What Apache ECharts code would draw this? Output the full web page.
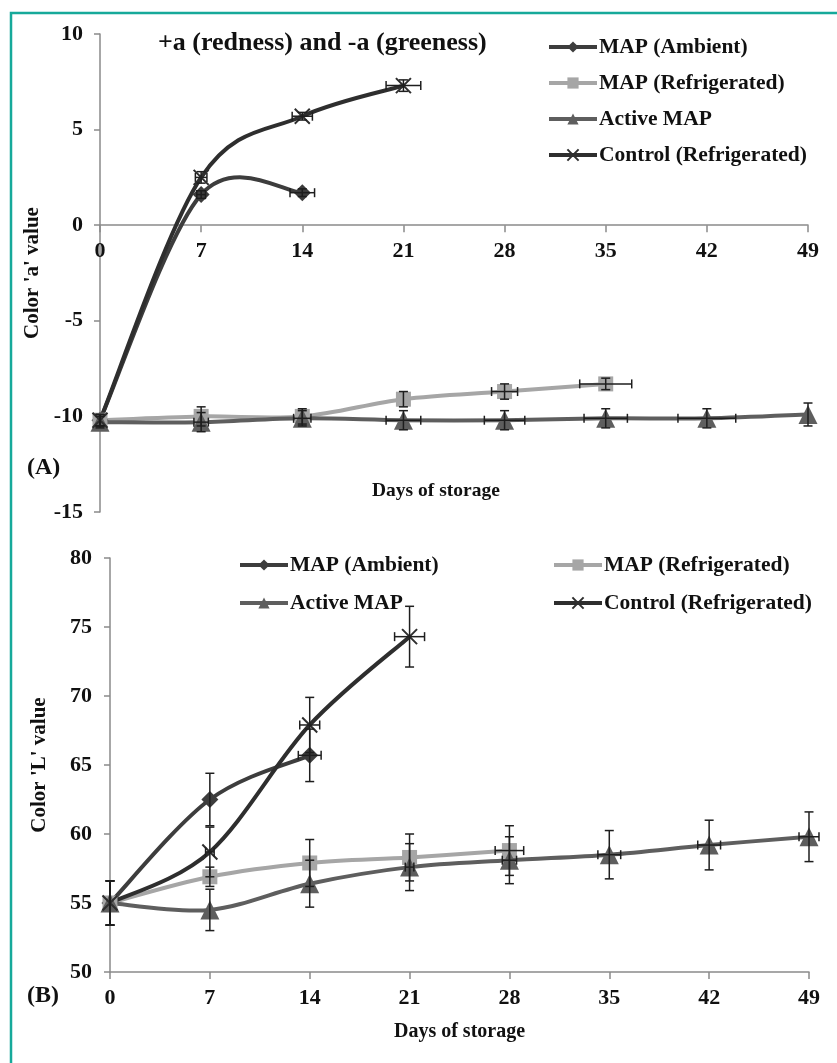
<!DOCTYPE html>
<html><head><meta charset="utf-8">
<script src="https://cdn.jsdelivr.net/npm/echarts@6/dist/echarts.min.js"></script>
<style>html,body{margin:0;padding:0;background:#fff}#c{width:837px;height:1063px}</style>
</head><body><div id="c"></div>
<script>
// ---------- DATA ----------
const seriesNames = ['MAP (Ambient)', 'MAP (Refrigerated)', 'Active MAP', 'Control (Refrigerated)'];
const dayTicks = [0, 7, 14, 21, 28, 35, 42, 49];

// Panel A : colour 'a' value
const aAmbientDays = [0, 7, 14];
const aAmbient     = [-10.2, 1.6, 1.7];
const aAmbientErrY = [0.3, 0.2, 0.2];
const aAmbientErrX = [0, 0.3, 0.85];

const aRefDays = [0, 7, 14, 21, 28, 35];
const aRef     = [-10.2, -10.0, -10.0, -9.1, -8.7, -8.3];
const aRefErrY = [0.3, 0.5, 0.4, 0.4, 0.4, 0.3];
const aRefErrX = [0, 0, 0, 0, 0.9, 1.8];

const aActiveDays = [0, 7, 14, 21, 28, 35, 42, 49];
const aActive     = [-10.3, -10.3, -10.1, -10.2, -10.2, -10.1, -10.1, -9.9];
const aActiveErrY = [0.3, 0.5, 0.4, 0.5, 0.5, 0.5, 0.5, 0.6];
const aActiveErrX = [0, 0.5, 0.6, 1.2, 1.4, 1.5, 2.0, 0];

const aControlDays = [0, 7, 14, 21];
const aControl     = [-10.2, 2.5, 5.7, 7.3];
const aControlErrY = [0.3, 0.3, 0.2, 0.3];
const aControlErrX = [0, 0.4, 0.7, 1.2];

// Panel B : colour 'L' value
const bAmbientDays = [0, 7, 14];
const bAmbient     = [55.0, 62.5, 65.7];
const bAmbientErrY = [1.6, 1.9, 1.9];
const bAmbientErrX = [0, 0, 0.8];

const bRefDays = [0, 7, 14, 21, 28];
const bRef     = [55.0, 56.9, 57.9, 58.3, 58.8];
const bRefErrY = [1.6, 0.7, 1.7, 1.7, 1.8];
const bRefErrX = [0, 0, 0, 0, 1.0];

const bActiveDays = [0, 7, 14, 21, 28, 35, 42, 49];
const bActive     = [55.0, 54.5, 56.4, 57.6, 58.1, 58.5, 59.2, 59.8];
const bActiveErrY = [1.6, 1.5, 1.7, 1.7, 1.7, 1.75, 1.8, 1.8];
const bActiveErrX = [0, 0, 0, 0.3, 0.5, 0.8, 0.8, 0.7];

const bControlDays = [0, 7, 14, 21];
const bControl     = [55.0, 58.7, 67.9, 74.3];
const bControlErrY = [1.6, 1.8, 2.0, 2.2];
const bControlErrX = [0, 0.3, 0.7, 1.05];

// ---------- STYLE ----------
const FONT = '"Liberation Serif", "Times New Roman", serif';
const colors = ['#3d3d3d', '#a6a6a6', '#5e5e5e', '#2e2e2e'];
const symbols = ['diamond', 'rect', 'triangle', 'path://M0,0L10,10M10,0L0,10'];
const symSizes = [17, 15, 19, 15];
const axisColor = '#8a8a8a';

function lineSeries(idx, days, vals, gi) {
  const isX = idx === 3;
  return {
    type: 'line', name: seriesNames[idx], xAxisIndex: gi, yAxisIndex: gi,
    data: days.map((d, i) => [d, vals[i]]),
    symbol: symbols[idx], symbolSize: symSizes[idx],
    lineStyle: { color: colors[idx], width: 4, opacity: 0 },
    itemStyle: isX ? { color: 'rgba(0,0,0,0)', borderColor: colors[idx], borderWidth: 2 }
                   : { color: colors[idx], borderWidth: 0 },
    z: 4, animation: false
  };
}

function curveSeries(idx, days, vals, gi) {
  const data = days.map((d, i) => [d, vals[i]]);
  return {
    type: 'custom', id: 'curve' + gi + '_' + idx, xAxisIndex: gi, yAxisIndex: gi,
    data: data, z: 2, animation: false, silent: true,
    encode: { x: 0, y: 1 },
    renderItem: function (params, api) {
      const i = params.dataIndex;
      if (i >= data.length - 1) return { type: 'group', children: [] };
      const P = data.map(d => api.coord(d));
      const p0 = P[Math.max(i - 1, 0)], p1 = P[i], p2 = P[i + 1], p3 = P[Math.min(i + 2, P.length - 1)];
      const t = 1 / 6;
      return {
        type: 'bezierCurve',
        shape: {
          x1: p1[0], y1: p1[1], x2: p2[0], y2: p2[1],
          cpx1: p1[0] + (p2[0] - p0[0]) * t, cpy1: p1[1] + (p2[1] - p0[1]) * t,
          cpx2: p2[0] - (p3[0] - p1[0]) * t, cpy2: p2[1] - (p3[1] - p1[1]) * t
        },
        style: { stroke: colors[idx], lineWidth: 4, fill: null, lineCap: 'round' }
      };
    }
  };
}

function errSeries(idx, days, vals, ex, ey, gi) {
  const data = days.map((d, i) => [d, vals[i], ex[i], ey[i]]);
  return {
    type: 'custom', id: 'err' + gi + '_' + idx, xAxisIndex: gi, yAxisIndex: gi,
    data: data, z: 5, animation: false, silent: true,
    encode: { x: 0, y: 1 },
    renderItem: function (params, api) {
      const x = api.value(0), y = api.value(1), dx = api.value(2), dy = api.value(3);
      const ch = [];
      const st = { stroke: '#1e1e1e', lineWidth: 1.5 };
      const cap = 4.5;
      if (dy > 0) {
        const a = api.coord([x, y + dy]), b = api.coord([x, y - dy]);
        ch.push({ type: 'line', shape: { x1: a[0], y1: a[1], x2: b[0], y2: b[1] }, style: st });
        ch.push({ type: 'line', shape: { x1: a[0] - cap, y1: a[1], x2: a[0] + cap, y2: a[1] }, style: st });
        ch.push({ type: 'line', shape: { x1: b[0] - cap, y1: b[1], x2: b[0] + cap, y2: b[1] }, style: st });
      }
      if (dx > 0) {
        const a = api.coord([x - dx, y]), b = api.coord([x + dx, y]);
        ch.push({ type: 'line', shape: { x1: a[0], y1: a[1], x2: b[0], y2: b[1] }, style: st });
        ch.push({ type: 'line', shape: { x1: a[0], y1: a[1] - cap, x2: a[0], y2: a[1] + cap }, style: st });
        ch.push({ type: 'line', shape: { x1: b[0], y1: b[1] - cap, x2: b[0], y2: b[1] + cap }, style: st });
      }
      return { type: 'group', children: ch };
    }
  };
}

const panelA = [
  [aAmbientDays, aAmbient, aAmbientErrX, aAmbientErrY],
  [aRefDays, aRef, aRefErrX, aRefErrY],
  [aActiveDays, aActive, aActiveErrX, aActiveErrY],
  [aControlDays, aControl, aControlErrX, aControlErrY]
];
const panelB = [
  [bAmbientDays, bAmbient, bAmbientErrX, bAmbientErrY],
  [bRefDays, bRef, bRefErrX, bRefErrY],
  [bActiveDays, bActive, bActiveErrX, bActiveErrY],
  [bControlDays, bControl, bControlErrX, bControlErrY]
];

const series = [];
[panelA, panelB].forEach((panel, gi) => {
  panel.forEach((s, idx) => series.push(lineSeries(idx, s[0], s[1], gi)));
});
[panelA, panelB].forEach((panel, gi) => {
  panel.forEach((s, idx) => {
    series.push(curveSeries(idx, s[0], s[1], gi));
    series.push(errSeries(idx, s[0], s[1], s[2], s[3], gi));
  });
});

const labelStyle = { color: '#111', fontFamily: FONT, fontWeight: 'bold', fontSize: 22 };
const lineAxis = { lineStyle: { color: axisColor, width: 1.5 } };

// Panel A grid / range: x axis crosses the y axis at zero
const gridA = { left: 100, right: 29, top: 34, height: 478 };
const aMin = -15, aMax = 10;
const aZeroOffset = -gridA.height * (0 - aMin) / (aMax - aMin);

function xAxisCfg(gi, extra) {
  return Object.assign({
    type: 'value', gridIndex: gi, min: 0, max: 49, interval: 7,
    axisLine: Object.assign({ show: true, onZero: false }, lineAxis),
    axisTick: { show: true, length: 7, lineStyle: { color: axisColor, width: 1.5 } },
    axisLabel: Object.assign({ margin: 15, formatter: v => dayTicks.indexOf(v) >= 0 ? String(v) : '' }, labelStyle),
    splitLine: { show: false }
  }, extra || {});
}
function yAxisCfg(gi, min, max, name, gap, margin) {
  return {
    type: 'value', gridIndex: gi, min: min, max: max, interval: 5,
    name: name, nameLocation: 'middle', nameRotate: 90, nameGap: gap,
    nameTextStyle: { color: '#111', fontFamily: FONT, fontWeight: 'bold', fontSize: 21 },
    axisLine: Object.assign({ show: true, onZero: false }, lineAxis),
    axisTick: { show: true, length: 6, lineStyle: { color: axisColor, width: 1.5 } },
    axisLabel: Object.assign({ margin: margin }, labelStyle),
    splitLine: { show: false }
  };
}

const legendText = { color: '#111', fontFamily: FONT, fontWeight: 'bold', fontSize: 21.5, padding: [0, 0, 0, -3] };
const legendLine = { opacity: 1, width: 4 };

const option = {
  backgroundColor: '#fff',
  animation: false,
  grid: [
    gridA,
    { left: 110, right: 28, top: 558, height: 414 }
  ],
  xAxis: [
    xAxisCfg(0, { offset: aZeroOffset }),
    xAxisCfg(1, {
      name: 'Days of storage', nameLocation: 'middle', nameGap: 50,
      nameTextStyle: { color: '#111', fontFamily: FONT, fontWeight: 'bold', fontSize: 20 }
    })
  ],
  yAxis: [
    yAxisCfg(0, aMin, aMax, "Color 'a' value", 46, 17),
    yAxisCfg(1, 50, 80, "Color 'L' value", 60, 18)
  ],
  legend: [
    { orient: 'vertical', left: 542, top: 31, itemGap: 14, itemWidth: 48, itemHeight: 14,
      data: seriesNames, textStyle: legendText, lineStyle: legendLine, selectedMode: false },
    { orient: 'vertical', left: 233, top: 549, itemGap: 16, itemWidth: 48, itemHeight: 14,
      data: [seriesNames[0], seriesNames[2]], textStyle: legendText, lineStyle: legendLine, selectedMode: false },
    { orient: 'vertical', left: 547, top: 549, itemGap: 16, itemWidth: 48, itemHeight: 14,
      data: [seriesNames[1], seriesNames[3]], textStyle: legendText, lineStyle: legendLine, selectedMode: false }
  ],
  graphic: [
    { type: 'rect', shape: { x: 11, y: 13, width: 1000, height: 1200 },
      style: { fill: 'none', stroke: '#16a99a', lineWidth: 2.5 }, silent: true, z: 0 },
    { type: 'text', left: 158, top: 30,
      style: { text: '+a (redness) and -a (greeness)', fill: '#111', font: 'bold 26px ' + FONT } },
    { type: 'text', left: 27, top: 456,
      style: { text: '(A)', fill: '#111', font: 'bold 24px ' + FONT } },
    { type: 'text', left: 372, top: 481,
      style: { text: 'Days of storage', fill: '#111', font: 'bold 19.5px ' + FONT } },
    { type: 'text', left: 27, top: 984,
      style: { text: '(B)', fill: '#111', font: 'bold 24px ' + FONT } }
  ],
  series: series
};

const chart = echarts.init(document.getElementById('c'), null, { renderer: 'canvas' });
chart.setOption(option);
</script>
</body></html>
